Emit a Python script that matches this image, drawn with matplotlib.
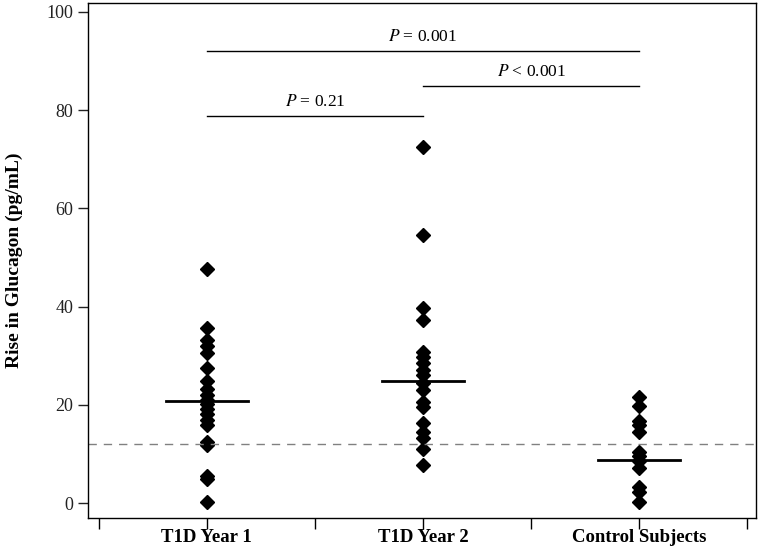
import matplotlib
matplotlib.use("Agg")
import matplotlib.pyplot as plt
import numpy as np

plt.rcParams['font.family'] = ['Liberation Serif', 'DejaVu Serif']
plt.rcParams['mathtext.fontset'] = 'stix'

# data
groups = ["T1D Year 1", "T1D Year 2", "Control Subjects"]
year1 = [47.7, 35.7, 33.2, 32.0, 30.5, 27.6, 24.8, 23.2, 22.0, 21.0,
         20.2, 19.2, 18.2, 17.0, 16.0, 12.4, 11.8, 5.6, 5.0, 0.3]
year2 = [72.5, 54.5, 39.7, 37.3, 30.8, 29.8, 28.5, 27.0, 26.0, 24.5,
         23.0, 20.5, 19.5, 16.3, 14.5, 13.2, 11.0, 7.7]
control = [21.7, 19.8, 16.8, 15.8, 14.5, 10.5, 9.5, 8.5, 7.2, 3.2, 2.3, 0.3]
medians = [20.8, 24.8, 8.8]
cutoff = 12.0
# comparisons: (from group, to group, bar height, label)
comparisons = [(1, 3, 92.0, "$P$ = 0.001"),
               (2, 3, 85.0, "$P$ < 0.001"),
               (1, 2, 78.8, "$P$ = 0.21")]

fig = plt.figure(figsize=(7.61, 5.5), dpi=100)
ax = fig.add_axes([0.1156, 0.058, 0.8778, 0.9365])

for i, vals in enumerate([year1, year2, control]):
    xpos = np.full(len(vals), i + 1)
    ax.plot(xpos, vals, "D", color="black", markersize=7, linestyle="none")
    ax.plot([i + 1 - 0.19, i + 1 + 0.19], [medians[i], medians[i]], color="black", lw=2)

ax.axhline(cutoff, color="gray", lw=1, linestyle=(0, (6, 5)))

for a, b, h, txt in comparisons:
    ax.plot([a, b], [h, h], color="black", lw=1)
    ax.text((a + b) / 2, h + 1.2, txt, ha="center", va="bottom", fontsize=12.5)

ax.set_xlim(0.45, 3.54)
ax.set_ylim(-3.05, 101.8)
ax.set_xticks([0.5, 1, 1.5, 2, 2.5, 3, 3.5])
ax.set_xticklabels(["", groups[0], "", groups[1], "", groups[2], ""],
                   fontsize=13.5, fontweight="bold")
ax.set_yticks([0, 20, 40, 60, 80, 100])
ax.tick_params(axis="y", labelsize=13, length=7, width=1, colors="#222222")
ax.tick_params(axis="x", length=8, width=1, pad=0)
ax.set_ylabel("Rise in Glucagon (pg/mL)", fontsize=14, fontweight="bold", labelpad=17)
for s in ax.spines.values():
    s.set_linewidth(1)

fig.savefig("out.png", dpi=100)
